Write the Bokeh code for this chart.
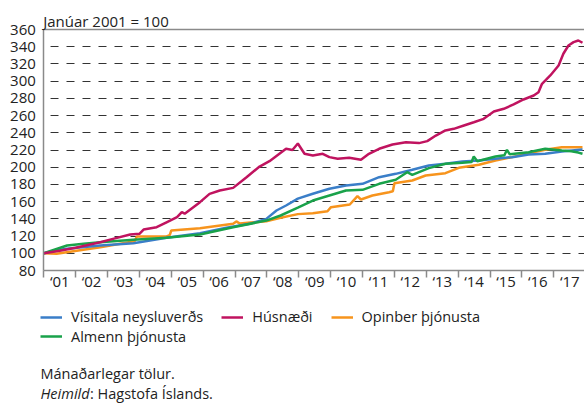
from bokeh.plotting import figure
from bokeh.models import Range1d, FixedTicker, Label, Legend, LegendItem, BoxAnnotation
from bokeh.embed import file_html
from bokeh.resources import INLINE

# ---- data (fractional years, index Jan 2001 = 100) ----
cpi_t = [2001.0, 2001.4, 2001.73, 2002.2, 2002.77, 2003.81, 2004.85, 2005.9, 2006.73, 2007.46,
         2007.98, 2008.3, 2008.6, 2008.97, 2009.44, 2009.96, 2010.48, 2011.0, 2011.52, 2012.04,
         2012.56, 2013.08, 2013.6, 2014.13, 2014.65, 2015.17, 2015.69, 2016.21, 2016.73, 2017.25, 2017.9]
cpi_v = [100, 103.5, 105.2, 107, 109, 111.7, 118, 123.4, 129.6, 134.2,
         140, 149.7, 155.5, 163.5, 169.1, 174.9, 178.8, 180.7, 188.4, 192.3,
         197, 202, 204, 206.6, 207.8, 209.8, 211.7, 214.8, 215.6, 218.3, 220.5]

hus_t = [2001.0, 2001.5, 2002.0, 2002.77, 2003.2, 2003.71, 2004.0, 2004.13, 2004.54, 2004.85,
         2005.18, 2005.33, 2005.42, 2005.9, 2006.2, 2006.52, 2006.94, 2007.36, 2007.77, 2008.08,
         2008.6, 2008.8, 2008.97, 2009.18, 2009.44, 2009.75, 2009.96, 2010.22, 2010.58, 2010.95,
         2011.2, 2011.52, 2011.94, 2012.36, 2012.77, 2013.03, 2013.3, 2013.6, 2013.86, 2014.18,
         2014.49, 2014.8, 2015.12, 2015.43, 2015.74, 2016.05, 2016.37, 2016.52, 2016.63, 2016.89,
         2017.15, 2017.3, 2017.46, 2017.62, 2017.77, 2017.9]
hus_v = [100, 103, 106.5, 112.9, 117, 121.8, 122.6, 127.6, 130.3, 136,
         142, 147.8, 146, 159.4, 169, 173, 176, 188.4, 200.8, 207,
         221.4, 220, 227.5, 215.6, 213.6, 215.6, 211.7, 209.8, 211, 208.6,
         215.6, 221.4, 226.4, 229, 228, 230.3, 236.8, 242.7, 244.6, 248.5,
         252.3, 256.2, 264.7, 267.9, 272.9, 278.7, 283.3, 287.2, 296.9, 306.6,
         318.2, 331.8, 341.4, 345.3, 347.2, 344.6]

opi_t = [2001.0, 2001.4, 2002.77, 2003.85, 2003.92, 2004.85, 2004.95, 2005.0, 2005.9, 2006.94,
         2007.04, 2007.15, 2007.98, 2008.43, 2008.97, 2009.44, 2009.9, 2010.01, 2010.6, 2010.84,
         2010.95, 2011.31, 2011.83, 2011.95, 2012.0, 2012.56, 2012.98, 2013.6, 2014.02, 2014.65,
         2015.17, 2015.69, 2016.21, 2016.73, 2017.25, 2017.9]
opi_v = [100, 99.5, 107, 114, 119.5, 119.5, 121, 126.5, 129.2, 134.2,
         137, 134.5, 137.3, 141.2, 145.5, 146.6, 148.9, 153.6, 156.7, 166.4,
         162.5, 167.1, 171, 172, 181.4, 184.6, 190.4, 193.1, 199.3, 202.8,
         207.8, 211.7, 216.3, 220.2, 223.3, 223.3]

alm_t = [2001.0, 2001.73, 2002.25, 2002.77, 2003.81, 2004.85, 2005.9, 2006.94, 2007.98, 2008.43,
         2008.97, 2009.44, 2009.96, 2010.48, 2011.0, 2011.52, 2012.04, 2012.4, 2012.56, 2013.08,
         2013.6, 2014.13, 2014.42, 2014.49, 2014.6, 2015.17, 2015.45, 2015.53, 2015.62, 2016.21,
         2016.73, 2017.25, 2017.55, 2017.77, 2017.9]
alm_v = [100, 109, 111, 112.9, 115.7, 118, 121.8, 130.3, 138, 143.9,
         153, 161.3, 167.1, 172.9, 173.7, 180.7, 185.4, 194.2, 191.2, 198.9,
         204, 205.1, 206, 212.4, 207, 212.4, 214, 220.2, 215, 217.5,
         221.4, 219.4, 218.6, 217, 215.6]

years = list(range(2001, 2018))
year_labels = ["\u2018%02d" % (y % 100) for y in years]
y_ticks = list(range(80, 361, 20))
grid_ticks = list(range(100, 341, 20))

names = ["Vísitala neysluverðs", "Húsnæði", "Opinber þjónusta", "Almenn þjónusta"]
colors = ["#3a7ec8", "#c0135f", "#f7941d", "#19a24a"]
title_text = "Janúar 2001 = 100"
note_text = "Mánaðarlegar tölur."
source_label = "Heimild"
source_text = ": Hagstofa Íslands."

FONT = "Open Sans"
AX = "#8a8a8a"
TXT = "#222222"

# the frame fills the whole canvas; axes sit at fixed data locations inside it
X0, X1 = 2001.0, 2017.963
Y0, Y1 = 80, 360
px_per_year = 31.875
px_per_unit = 241 / 280
W, H = 584, 403
xr = Range1d(X0 - 43.3 / px_per_year, X0 - 43.3 / px_per_year + W / px_per_year)
yr = Range1d(Y0 - 133 / px_per_unit, Y0 - 133 / px_per_unit + H / px_per_unit)
grid_gap = 6.3 / px_per_year   # grid dashes start a few pixels right of the axis

p = figure(width=W, height=H, output_backend="svg", toolbar_location=None,
           x_range=xr, y_range=yr, min_border=0)
p.outline_line_color = None

# x axis
p.xaxis.fixed_location = Y0
p.xaxis.bounds = (X0, X1)
p.xaxis.ticker = FixedTicker(ticks=[y + 0.5 for y in years], minor_ticks=years)
p.xaxis.major_label_overrides = {y + 0.5: lab for y, lab in zip(years, year_labels)}
p.xaxis.major_tick_out = 0
p.xaxis.major_tick_in = 0
p.xaxis.minor_tick_out = 7
p.xaxis.minor_tick_in = 0
p.xaxis.minor_tick_line_color = AX
p.xaxis.minor_tick_line_width = 1.5
p.xaxis.axis_line_color = AX
p.xaxis.axis_line_width = 1.5
p.xaxis.major_label_standoff = -7
p.xaxis.major_label_text_font = FONT
p.xaxis.major_label_text_font_size = "15px"
p.xaxis.major_label_text_color = TXT

# y axis
p.yaxis.fixed_location = X0
p.yaxis.bounds = (Y0, Y1)
p.yaxis.ticker = FixedTicker(ticks=y_ticks)
p.yaxis.major_tick_out = 0
p.yaxis.major_tick_in = 0
p.yaxis.minor_tick_line_color = None
p.yaxis.axis_line_color = AX
p.yaxis.axis_line_width = 1.5
p.yaxis.major_label_standoff = 8
p.yaxis.major_label_text_font = FONT
p.yaxis.major_label_text_font_size = "15px"
p.yaxis.major_label_text_color = TXT
p.yaxis.major_label_text_baseline = "top"

# dashed horizontal grid; a white underlay strip hides it left of the plot area
p.xgrid.visible = False
p.ygrid.ticker = FixedTicker(ticks=grid_ticks)
p.ygrid.grid_line_color = "#333333"
p.ygrid.grid_line_width = 1
p.ygrid.grid_line_dash = "8 8"
p.ygrid.grid_line_dash_offset = 14
p.add_layout(BoxAnnotation(left=xr.start, right=X0 + grid_gap, bottom=yr.start, top=yr.end,
                           fill_color="white", fill_alpha=1, line_color=None, level="underlay"))
p.segment(x0=[X0], x1=[X1], y0=[Y1], y1=[Y1], line_color=AX, line_width=1.5)

# lines
r_opi = p.line(opi_t, opi_v, line_color=colors[2], line_width=2.5)
r_cpi = p.line(cpi_t, cpi_v, line_color=colors[0], line_width=2.5)
r_alm = p.line(alm_t, alm_v, line_color=colors[3], line_width=2.5)
r_hus = p.line(hus_t, hus_v, line_color=colors[1], line_width=2.5)

def mk_legend(items, loc):
    return Legend(items=items, location=loc, orientation="horizontal",
                  padding=0, margin=0, spacing=18, border_line_color=None,
                  background_fill_alpha=0, glyph_width=22, glyph_height=20,
                  label_standoff=9, label_height=20,
                  label_text_font=FONT, label_text_font_size="14.5px",
                  label_text_color=TXT)

leg1 = mk_legend([LegendItem(label=names[0], renderers=[r_cpi]),
                  LegendItem(label=names[1], renderers=[r_hus]),
                  LegendItem(label=names[2], renderers=[r_opi])], (40, 76.3))
leg2 = mk_legend([LegendItem(label=names[3], renderers=[r_alm])], (40, 57))
p.add_layout(leg1)
p.add_layout(leg2)

# title and notes
p.add_layout(Label(x=42.7, y=382.3, x_units="screen", y_units="screen",
                   text=title_text, text_font=FONT, text_font_size="15px",
                   text_color=TXT, text_baseline="alphabetic"))
p.add_layout(Label(x=40, y=30, x_units="screen", y_units="screen",
                   text=note_text, text_font=FONT, text_font_size="14.5px",
                   text_color=TXT, text_baseline="middle"))
p.add_layout(Label(x=40, y=10, x_units="screen", y_units="screen",
                   text=source_label, text_font=FONT, text_font_size="14.5px",
                   text_font_style="italic", text_color=TXT, text_baseline="middle"))
p.add_layout(Label(x=89.5, y=10, x_units="screen", y_units="screen",
                   text=source_text, text_font=FONT, text_font_size="14.5px",
                   text_color=TXT, text_baseline="middle"))

open("out.html", "w").write(file_html(p, INLINE))
